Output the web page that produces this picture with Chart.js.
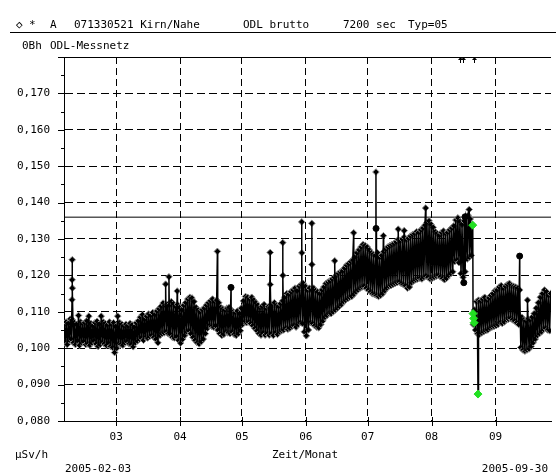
<!DOCTYPE html>
<html>
<head>
<meta charset="utf-8">
<script src="https://cdn.jsdelivr.net/npm/chart.js@4"></script>
<style>
body { margin: 0; background: #fff; }
#box { width: 556px; height: 475px; }
</style>
</head>
<body>
<div id="box"><canvas id="odl" width="556" height="475"></canvas></div>
<script>
// Tag 0 = 2005-02-03, Messwerte in µSv/h
const monatTage = [26, 57, 87, 118, 148, 179, 210];
const monatLabels = ['03', '04', '05', '06', '07', '08', '09'];

// Tageshoechst- und Tagestiefstwerte
const tagHoch = [
  0.1065, 0.1072, 0.1068, 0.1080, 0.1078, 0.1070, 0.1066, 0.1090, 0.1072, 0.1068,
  0.1070, 0.1075, 0.1088, 0.1068, 0.1062, 0.1070, 0.1074, 0.1066, 0.1088, 0.1072,
  0.1068, 0.1064, 0.1072, 0.1066, 0.1070, 0.1060, 0.1088, 0.1070, 0.1066, 0.1062,
  0.1066, 0.1062, 0.1068, 0.1064, 0.1058, 0.1070, 0.1075, 0.1085, 0.1092, 0.1080,
  0.1088, 0.1094, 0.1090, 0.1098, 0.1092, 0.1102, 0.1108, 0.1115, 0.1124, 0.1118,
  0.1120, 0.1118, 0.1128, 0.1122, 0.1115, 0.1120, 0.1112, 0.1105, 0.1118, 0.1125,
  0.1135, 0.1140, 0.1138, 0.1128, 0.1112, 0.1105, 0.1100, 0.1106, 0.1110, 0.1118,
  0.1125, 0.1130, 0.1135, 0.1128, 0.1132, 0.1125, 0.1112, 0.1108, 0.1105, 0.1110,
  0.1112, 0.1105, 0.1100, 0.1098, 0.1102, 0.1095, 0.1110, 0.1130, 0.1142, 0.1140,
  0.1135, 0.1140, 0.1132, 0.1125, 0.1118, 0.1112, 0.1115, 0.1120, 0.1110, 0.1114,
  0.1112, 0.1120, 0.1125, 0.1118, 0.1115, 0.1122, 0.1130, 0.1140, 0.1150, 0.1148,
  0.1155, 0.1160, 0.1165, 0.1158, 0.1170, 0.1175, 0.1178, 0.1170, 0.1160, 0.1165,
  0.1160, 0.1165, 0.1158, 0.1155, 0.1150, 0.1160, 0.1168, 0.1178, 0.1182, 0.1185,
  0.1190, 0.1195, 0.1200, 0.1205, 0.1210, 0.1212, 0.1220, 0.1228, 0.1232, 0.1238,
  0.1242, 0.1250, 0.1262, 0.1270, 0.1278, 0.1285, 0.1282, 0.1278, 0.1270, 0.1262,
  0.1258, 0.1255, 0.1262, 0.1250, 0.1255, 0.1265, 0.1272, 0.1278, 0.1282, 0.1285,
  0.1288, 0.1292, 0.1298, 0.1295, 0.1300, 0.1305, 0.1298, 0.1302, 0.1308, 0.1312,
  0.1315, 0.1320, 0.1318, 0.1325, 0.1330, 0.1338, 0.1345, 0.1350, 0.1340, 0.1332,
  0.1320, 0.1315, 0.1310, 0.1318, 0.1322, 0.1315, 0.1318, 0.1325, 0.1330, 0.1336,
  0.1352, 0.1358, 0.1348, 0.1340, 0.1350, 0.1362, 0.1365, 0.1355, 0.1340, 0.1105,
  0.1128, 0.1132, 0.1130, 0.1135, 0.1140, 0.1132, 0.1138, 0.1145, 0.1150, 0.1158,
  0.1160, 0.1168, 0.1172, 0.1165, 0.1170, 0.1175, 0.1178, 0.1172, 0.1170, 0.1168,
  0.1165, 0.1160, 0.1085, 0.1078, 0.1075, 0.1080, 0.1078, 0.1085, 0.1095, 0.1110,
  0.1125, 0.1140, 0.1150, 0.1160, 0.1155, 0.1145, 0.1150
];
const tagTief = [
  0.1012, 0.1018, 0.1010, 0.1022, 0.1025, 0.1015, 0.1010, 0.1020, 0.1008, 0.1015,
  0.1018, 0.1010, 0.1012, 0.1008, 0.1015, 0.1020, 0.1012, 0.1005, 0.1010, 0.1016,
  0.1012, 0.1008, 0.1014, 0.1005, 0.1002, 0.0988, 0.1000, 0.1012, 0.1010, 0.1008,
  0.1015, 0.1018, 0.1012, 0.1010, 0.1004, 0.1015, 0.1020, 0.1025, 0.1028, 0.1022,
  0.1030, 0.1028, 0.1032, 0.1035, 0.1030, 0.1025, 0.1015, 0.1035, 0.1040, 0.1042,
  0.1045, 0.1040, 0.1038, 0.1030, 0.1028, 0.1032, 0.1022, 0.1014, 0.1025, 0.1035,
  0.1045, 0.1048, 0.1040, 0.1030, 0.1022, 0.1015, 0.1012, 0.1018, 0.1025, 0.1040,
  0.1055, 0.1062, 0.1060, 0.1058, 0.1062, 0.1050, 0.1040, 0.1035, 0.1038, 0.1045,
  0.1042, 0.1040, 0.1045, 0.1038, 0.1035, 0.1040, 0.1048, 0.1065, 0.1072, 0.1070,
  0.1072, 0.1068, 0.1062, 0.1055, 0.1048, 0.1040, 0.1036, 0.1042, 0.1036, 0.1040,
  0.1036, 0.1040, 0.1035, 0.1042, 0.1038, 0.1045, 0.1048, 0.1050, 0.1055, 0.1052,
  0.1055, 0.1060, 0.1062, 0.1058, 0.1065, 0.1070, 0.1068, 0.1045, 0.1034, 0.1050,
  0.1070, 0.1068, 0.1062, 0.1058, 0.1056, 0.1065, 0.1075, 0.1085, 0.1090, 0.1095,
  0.1095, 0.1100, 0.1105, 0.1110, 0.1115, 0.1120, 0.1128, 0.1132, 0.1136, 0.1140,
  0.1142, 0.1148, 0.1155, 0.1160, 0.1165, 0.1168, 0.1170, 0.1165, 0.1160, 0.1155,
  0.1150, 0.1148, 0.1145, 0.1142, 0.1145, 0.1150, 0.1158, 0.1165, 0.1170, 0.1172,
  0.1175, 0.1178, 0.1180, 0.1182, 0.1178, 0.1175, 0.1172, 0.1165, 0.1168, 0.1180,
  0.1185, 0.1188, 0.1190, 0.1192, 0.1190, 0.1195, 0.1198, 0.1195, 0.1190, 0.1192,
  0.1195, 0.1198, 0.1200, 0.1196, 0.1192, 0.1188, 0.1192, 0.1200, 0.1205, 0.1210,
  0.1238, 0.1242, 0.1235, 0.1205, 0.1195, 0.1210, 0.1245, 0.1250, 0.1255, 0.1065,
  0.1050, 0.1040, 0.1038, 0.1042, 0.1045, 0.1048, 0.1050, 0.1055, 0.1058, 0.1060,
  0.1062, 0.1065, 0.1070, 0.1068, 0.1072, 0.1078, 0.1080, 0.1082, 0.1078, 0.1075,
  0.1070, 0.1065, 0.1002, 0.0995, 0.0992, 0.0995, 0.0998, 0.1005, 0.1015, 0.1025,
  0.1035, 0.1040, 0.1045, 0.1052, 0.1055, 0.1050, 0.1048
];

// einzelne Spitzen
const spitzenTage  = [4.6, 4.65, 4.7, 4.75, 50.0, 51.6, 55.6, 75.1, 100.7, 100.75, 106.8, 106.85,
                      116.0, 116.05, 120.9, 120.95, 132.0, 141.2, 152.0, 155.6, 162.8, 165.7, 176.1, 197.2, 225.5];
const spitzenWerte = [0.1133, 0.1188, 0.1243, 0.1165, 0.1176, 0.1196, 0.1157, 0.1266, 0.1263, 0.1175, 0.1290, 0.1200,
                      0.1347, 0.1262, 0.1343, 0.1230, 0.1240, 0.1317, 0.1484, 0.1309, 0.1327, 0.1323, 0.1385, 0.1381, 0.1132];

// gruen markierte Werte
const gruenTage  = [198.95, 199.1, 199.35, 199.6, 201.5];
const gruenWerte = [0.1338, 0.1095, 0.1082, 0.1070, 0.0874];

// schwarze Punkte
const schwarzTage  = [81.7, 152.05, 194.6, 195.2, 221.7];
const schwarzWerte = [0.1167, 0.1329, 0.1180, 0.1361, 0.1253];

// Werte oberhalb des Messbereichs
const ueberlaufTage = [192.8, 194.0, 199.5];

const grenzwert = 0.136;
const xMin = 0.7, xMax = 236.9;

const schrift = { family: 'DejaVu Sans Mono', size: 11 };

const rohPunkte = [];
tagTief.forEach((v, i) => {
    rohPunkte.push({ x: i + 0.25, y: v });
    rohPunkte.push({ x: i + 0.75, y: tagHoch[i] });
});
spitzenTage.forEach((t, i) => rohPunkte.push({ x: t, y: spitzenWerte[i] }));
rohPunkte.sort((a, b) => a.x - b.x);

const gruenPunkte = gruenTage.map((t, i) => ({ x: t, y: gruenWerte[i] }));
const schwarzPunkte = schwarzTage.map((t, i) => ({ x: t, y: schwarzWerte[i] }));
const allePunkte = rohPunkte.concat(gruenPunkte, schwarzPunkte).sort((a, b) => a.x - b.x);

const beschriftung = {
    id: 'beschriftung',
    afterDraw(chart) {
        const ctx = chart.ctx;
        const a = chart.chartArea;
        const xs = chart.scales.x, ys = chart.scales.y;
        ctx.save();
        ctx.strokeStyle = '#000';
        ctx.lineWidth = 1;

        // oberer Rahmen
        ctx.beginPath();
        ctx.moveTo(a.left, Math.round(a.top) + 0.5);
        ctx.lineTo(a.right, Math.round(a.top) + 0.5);
        ctx.stroke();

        // y-Striche: gross bei 0,010, klein dazwischen
        ys.ticks.forEach((t, i) => {
            const py = Math.round(ys.getPixelForValue(t.value)) + 0.5;
            ctx.beginPath();
            ctx.moveTo(a.left - 6, py);
            ctx.lineTo(a.left, py);
            ctx.stroke();
            if (i < ys.ticks.length - 1) {
                const my = Math.round(ys.getPixelForValue((t.value + ys.ticks[i + 1].value) / 2)) + 0.5;
                ctx.beginPath();
                ctx.moveTo(a.left - 3, my);
                ctx.lineTo(a.left, my);
                ctx.stroke();
            }
        });

        // x-Striche an den Monatsgrenzen
        monatTage.forEach(t => {
            const px = Math.round(xs.getPixelForValue(t)) + 0.5;
            ctx.beginPath();
            ctx.moveTo(px, a.bottom - 4);
            ctx.lineTo(px, a.bottom + 5);
            ctx.stroke();
        });

        // Ueberlauf-Pfeile am oberen Rand
        ctx.fillStyle = '#000';
        ueberlaufTage.forEach(t => {
            const px = Math.round(xs.getPixelForValue(t)) + 0.5;
            ctx.beginPath();
            ctx.moveTo(px, a.top);
            ctx.lineTo(px, a.top + 6);
            ctx.stroke();
            ctx.beginPath();
            ctx.moveTo(px - 2.5, a.top + 3);
            ctx.lineTo(px + 2.5, a.top + 3);
            ctx.lineTo(px, a.top);
            ctx.closePath();
            ctx.fill();
        });

        // Texte
        ctx.font = '11px "DejaVu Sans Mono"';
        ctx.textBaseline = 'middle';
        ctx.textAlign = 'left';
        ctx.fillText('◇', 16, 25);
        ctx.fillText('*', 29, 25);
        ctx.fillText('A', 50, 25);
        ctx.fillText('071330521 Kirn/Nahe', 74, 25);
        ctx.fillText('ODL brutto', 243, 25);
        ctx.fillText('7200 sec', 343, 25);
        ctx.fillText('Typ=05', 408, 25);
        ctx.beginPath();
        ctx.moveTo(10, 32.5);
        ctx.lineTo(556, 32.5);
        ctx.stroke();

        ctx.fillText('0Bh', 22, 46);
        ctx.fillText('ODL-Messnetz', 50, 46);

        ctx.fillText('µSv/h', 15, 455);
        ctx.fillText('2005-02-03', 65, 469);
        ctx.textAlign = 'center';
        ctx.fillText('Zeit/Monat', 305, 455);
        ctx.textAlign = 'right';
        ctx.fillText('2005-09-30', 548, 469);
        ctx.restore();
    }
};

new Chart(document.getElementById('odl'), {
    type: 'scatter',
    data: {
        datasets: [
            {
                label: 'Grenzwert',
                data: [{ x: xMin, y: grenzwert }, { x: xMax, y: grenzwert }],
                showLine: true,
                borderColor: '#000',
                borderWidth: 1,
                pointRadius: 0,
                order: 4
            },
            {
                label: 'Messwerte',
                data: rohPunkte,
                showLine: false,
                pointStyle: 'rectRot',
                pointRadius: 3.3,
                backgroundColor: '#000',
                borderColor: '#8c8c8c',
                borderWidth: 1,
                order: 3
            },
            {
                label: 'Verlauf',
                data: allePunkte,
                showLine: true,
                borderColor: '#000',
                borderWidth: 1.5,
                pointRadius: 0,
                order: 2
            },
            {
                label: 'schwarz',
                data: schwarzPunkte,
                pointStyle: 'circle',
                pointRadius: 3,
                backgroundColor: '#000',
                borderColor: '#000',
                order: 1
            },
            {
                label: 'gruen',
                data: gruenPunkte,
                pointStyle: 'rectRot',
                pointRadius: 4,
                backgroundColor: '#22e022',
                borderColor: '#22e022',
                borderWidth: 1,
                order: 0
            }
        ]
    },
    options: {
        responsive: false,
        animation: false,
        events: [],
        layout: { padding: { top: 57, right: 0, left: 0, bottom: 0 } },
        plugins: {
            legend: { display: false },
            tooltip: { enabled: false }
        },
        scales: {
            x: {
                type: 'linear',
                min: xMin,
                max: xMax,
                afterBuildTicks: s => { s.ticks = monatTage.map(v => ({ value: v })); },
                afterFit: s => { s.height = 54; },
                ticks: {
                    callback: v => monatLabels[monatTage.indexOf(v)] || '',
                    font: schrift,
                    color: '#000',
                    padding: 10,
                    maxRotation: 0,
                    autoSkip: false
                },
                grid: { color: '#000', lineWidth: 1, drawTicks: false },
                border: { color: '#000', width: 1, dash: [7, 4] }
            },
            y: {
                min: 0.08,
                max: 0.18,
                afterFit: s => { s.width = 64; },
                ticks: {
                    stepSize: 0.01,
                    callback: v => v > 0.1795 ? '' : v.toFixed(3).replace('.', ','),
                    font: schrift,
                    color: '#000',
                    padding: 14
                },
                grid: {
                    color: c => (c.tick && c.tick.value > 0.1795) ? 'rgba(0,0,0,0)' : '#000',
                    lineWidth: 1,
                    drawTicks: false
                },
                border: { color: '#000', width: 1, dash: [8, 4] }
            }
        }
    },
    plugins: [beschriftung]
});
</script>
</body>
</html>
